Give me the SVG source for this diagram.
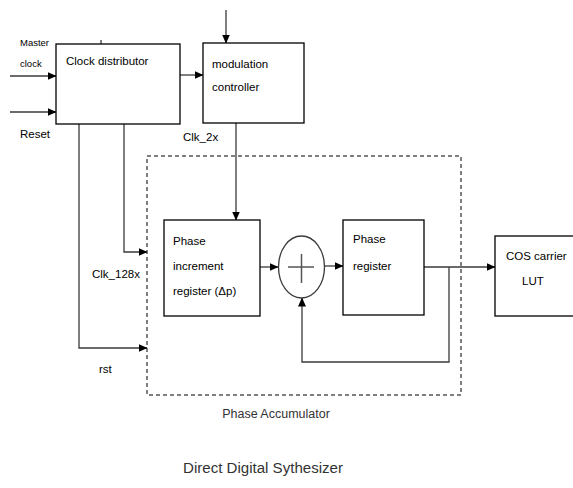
<svg xmlns="http://www.w3.org/2000/svg" width="573" height="488" viewBox="0 0 573 488">
<defs>
<marker id="arr" markerWidth="9" markerHeight="8" refX="8.5" refY="4" orient="auto" markerUnits="userSpaceOnUse">
<path d="M0,0 L9,4 L0,8 Z" fill="#000"/>
</marker>
<style>
.box{fill:#fff;stroke:#000;stroke-width:1.3}
.ln{fill:none;stroke:#3a3a3a;stroke-width:1.3}
.lb{font-family:"Liberation Sans",Arial,sans-serif;font-size:11.5px;fill:#000}
.sm{font-size:9.5px}
.cap{font-family:"Liberation Sans",Arial,sans-serif;fill:#333}
</style>
</defs>
<rect width="573" height="488" fill="#fff"/>
<g id="phase-accumulator">
<rect x="147" y="156" width="314" height="239" fill="none" stroke="#000" stroke-width="1" stroke-dasharray="4,3"/>
<text class="cap" x="276" y="418" font-size="12.5" text-anchor="middle">Phase Accumulator</text>
</g>
<g id="connectors">
<line class="ln" x1="10" y1="76" x2="56" y2="76" marker-end="url(#arr)"/>
<line class="ln" x1="10" y1="112" x2="56" y2="112" marker-end="url(#arr)"/>
<line class="ln" x1="226" y1="10" x2="226" y2="43" marker-end="url(#arr)"/>
<line class="ln" x1="180" y1="75" x2="203" y2="75" marker-end="url(#arr)"/>
<line class="ln" x1="101" y1="40" x2="101" y2="44"/>
<line class="ln" x1="236" y1="123" x2="236" y2="220" marker-end="url(#arr)"/>
<polyline class="ln" points="124,124 124,252 147,252" marker-end="url(#arr)"/>
<polyline class="ln" points="79,124 79,348 147,348" marker-end="url(#arr)"/>
<line class="ln" x1="260" y1="267" x2="278" y2="267" marker-end="url(#arr)"/>
<line class="ln" x1="324" y1="266" x2="343" y2="266" marker-end="url(#arr)"/>
<line class="ln" x1="424" y1="267" x2="495" y2="267" marker-end="url(#arr)"/>
<polyline class="ln" points="449,267 449,362 302,362 302,298" marker-end="url(#arr)"/>
</g>
<g id="clock-distributor">
<rect class="box" x="56" y="44" width="124" height="80"/>
<text class="lb" x="66" y="65">Clock distributor</text>
</g>
<g id="modulation-controller">
<rect class="box" x="203" y="43" width="101" height="80"/>
<text class="lb" x="212" y="68">modulation</text>
<text class="lb" x="212" y="91">controller</text>
</g>
<g id="phase-increment-register">
<rect class="box" x="164" y="220" width="96" height="96"/>
<text class="lb" x="173" y="245">Phase</text>
<text class="lb" x="173" y="270">increment</text>
<text class="lb" x="173" y="295">register (Δp)</text>
</g>
<g id="adder">
<ellipse cx="301.5" cy="267" rx="23" ry="31" fill="#fff" stroke="#3a3a3a" stroke-width="1.3"/>
<line x1="288" y1="267" x2="314" y2="267" stroke="#555" stroke-width="1.5"/>
<line x1="301.5" y1="254" x2="301.5" y2="283" stroke="#555" stroke-width="1.5"/>
</g>
<g id="phase-register">
<rect class="box" x="343" y="220" width="81" height="95"/>
<text class="lb" x="353" y="243">Phase</text>
<text class="lb" x="353" y="270">register</text>
</g>
<g id="cos-carrier-lut">
<rect class="box" x="495" y="236" width="82" height="80"/>
<text class="lb" x="506" y="260">COS carrier</text>
<text class="lb" x="522" y="285">LUT</text>
</g>
<g id="labels">
<text class="lb sm" x="20" y="46">Master</text>
<text class="lb sm" x="20" y="67">clock</text>
<text class="lb" x="20" y="138">Reset</text>
<text class="lb" x="183" y="141">Clk_2x</text>
<text class="lb" x="92" y="278">Clk_128x</text>
<text class="lb" x="99" y="373">rst</text>
</g>
<text class="cap" x="183" y="473" font-size="15.5" fill="#444" textLength="160" lengthAdjust="spacingAndGlyphs">Direct Digital Sythesizer</text>
</svg>
